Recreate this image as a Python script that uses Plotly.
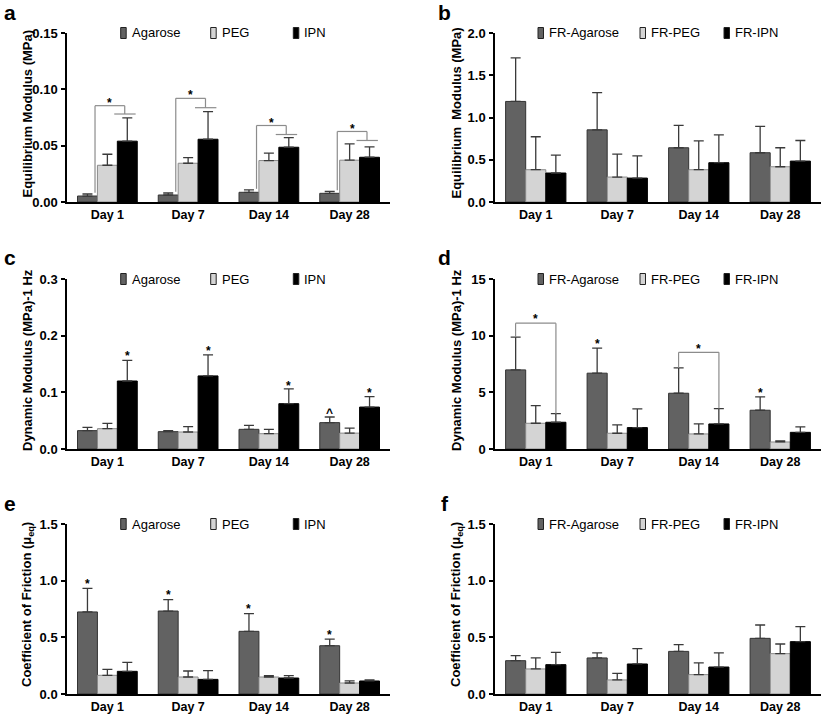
import plotly.graph_objects as go
from plotly.subplots import make_subplots

days = ["Day 1", "Day 7", "Day 14", "Day 28"]
day_pos = [0, 1, 2, 3]
names_plain = ["Agarose", "PEG", "IPN"]
names_fr = ["FR-Agarose", "FR-PEG", "FR-IPN"]

# a - equilibrium modulus, plain gels (MPa)
a_agarose = [0.0053, 0.0062, 0.0086, 0.0077]
a_agarose_err = [0.0018, 0.0018, 0.0021, 0.0018]
a_peg = [0.0326, 0.0344, 0.0368, 0.0371]
a_peg_err = [0.0098, 0.0050, 0.0065, 0.0145]
a_ipn = [0.0540, 0.0557, 0.0486, 0.0397]
a_ipn_err = [0.0207, 0.0246, 0.0086, 0.0092]

# b - equilibrium modulus, FR gels (MPa)
b_agarose = [1.19, 0.854, 0.642, 0.583]
b_agarose_err = [0.516, 0.441, 0.264, 0.311]
b_peg = [0.382, 0.295, 0.382, 0.417]
b_peg_err = [0.390, 0.272, 0.342, 0.225]
b_ipn = [0.343, 0.283, 0.465, 0.484]
b_ipn_err = [0.212, 0.264, 0.330, 0.244]

# c - dynamic modulus 1 Hz, plain gels
c_agarose = [0.0324, 0.0306, 0.0347, 0.0465]
c_agarose_err = [0.0058, 0.0018, 0.0071, 0.0100]
c_peg = [0.0359, 0.0300, 0.0270, 0.0280]
c_peg_err = [0.0094, 0.0094, 0.0077, 0.0090]
c_ipn = [0.120, 0.129, 0.080, 0.074]
c_ipn_err = [0.0365, 0.0370, 0.0260, 0.0184]

# d - dynamic modulus 1 Hz, FR gels
d_agarose = [6.98, 6.69, 4.92, 3.42]
d_agarose_err = [2.89, 2.21, 2.24, 1.18]
d_peg = [2.27, 1.39, 1.33, 0.62]
d_peg_err = [1.56, 0.73, 0.88, 0.09]
d_ipn = [2.36, 1.89, 2.21, 1.47]
d_ipn_err = [0.76, 1.65, 1.36, 0.48]

# e - coefficient of friction, plain gels
e_agarose = [0.724, 0.732, 0.553, 0.426]
e_agarose_err = [0.208, 0.100, 0.156, 0.059]
e_peg = [0.165, 0.150, 0.150, 0.097]
e_peg_err = [0.053, 0.053, 0.012, 0.018]
e_ipn = [0.200, 0.129, 0.141, 0.115]
e_ipn_err = [0.079, 0.077, 0.021, 0.009]

# f - coefficient of friction, FR gels
f_agarose = [0.294, 0.318, 0.376, 0.491]
f_agarose_err = [0.044, 0.044, 0.059, 0.118]
f_peg = [0.221, 0.124, 0.171, 0.356]
f_peg_err = [0.097, 0.058, 0.103, 0.085]
f_ipn = [0.259, 0.265, 0.238, 0.462]
f_ipn_err = [0.109, 0.135, 0.124, 0.132]

# significance markers
a_bracket_top = [0.0855, 0.0920, 0.0679, 0.0626]
a_bracket_drop = [0.0781, 0.0837, 0.0599, 0.0546]
a_star = [0.0905, 0.0972, 0.0732, 0.0676]
c_ipn_star = [0.169, 0.178, 0.116, 0.105]
c_caret = 0.069
d_bracket_days = [0, 2]
d_bracket_top = [11.1, 8.53]
d_bracket_star = [11.7, 9.09]
d_agarose_star_days = [1, 3]
d_agarose_star = [9.49, 5.2]
e_agarose_star = [0.994, 0.897, 0.774, 0.544]

W, H = 826, 717
FONT = "Liberation Sans, Arial, sans-serif"
colors = ["#626262", "#d4d4d4", "#000000"]
outline = ["#333333", "#8a8a8a", "#000000"]
err_color = "#3a3a3a"
bracket_color = "#8c8c8c"


def px(x):
    return x / W


def py(y):
    return 1 - y / H


panels = [
    dict(letter="a", means=[a_agarose, a_peg, a_ipn], errs=[a_agarose_err, a_peg_err, a_ipn_err],
         names=names_plain, ymax=0.15, dtick=0.05, fmt=".2f", title="Equilibrium Modulus (MPa)"),
    dict(letter="b", means=[b_agarose, b_peg, b_ipn], errs=[b_agarose_err, b_peg_err, b_ipn_err],
         names=names_fr, ymax=2.0, dtick=0.5, fmt=".1f", title="Equilibrium  Modulus (MPa)"),
    dict(letter="c", means=[c_agarose, c_peg, c_ipn], errs=[c_agarose_err, c_peg_err, c_ipn_err],
         names=names_plain, ymax=0.3, dtick=0.1, fmt=".1f", title="Dynamic Modulus (MPa)-1 Hz"),
    dict(letter="d", means=[d_agarose, d_peg, d_ipn], errs=[d_agarose_err, d_peg_err, d_ipn_err],
         names=names_fr, ymax=15, dtick=5, fmt="d", title="Dynamic Modulus (MPa)-1 Hz"),
    dict(letter="e", means=[e_agarose, e_peg, e_ipn], errs=[e_agarose_err, e_peg_err, e_ipn_err],
         names=names_plain, ymax=1.5, dtick=0.5, fmt=".1f", title="Coefficient of Friction (\u03bc<sub>eq</sub>)"),
    dict(letter="f", means=[f_agarose, f_peg, f_ipn], errs=[f_agarose_err, f_peg_err, f_ipn_err],
         names=names_fr, ymax=1.5, dtick=0.5, fmt=".1f", title="Coefficient of Friction (\u03bc<sub>eq</sub>)"),
]

# pixel boxes of each plotting area
col_x = [(67, 390), (495, 821)]
row_y = [(33, 202), (279, 449), (524, 694)]
legend_sym = {"plain": [53.7, 143.7, 226.3], "fr": [43, 145, 229]}

fig = make_subplots(rows=3, cols=2)
shapes = []
annotations = []

for i, p in enumerate(panels):
    row, col = i // 2, i % 2
    x0, x1 = col_x[col]
    ytop, ybot = row_y[row]

    for k in range(3):
        fig.add_trace(go.Bar(
            x=day_pos, y=p["means"][k], name=p["names"][k], showlegend=False,
            marker=dict(color=colors[k], line=dict(color=outline[k], width=1)),
            error_y=dict(type="data", symmetric=False, array=p["errs"][k], arrayminus=[0] * 4,
                         color=err_color, thickness=1.3, width=5),
        ), row=row + 1, col=col + 1)

    fig.update_xaxes(domain=[px(x0), px(x1)], range=[-0.5, 3.5], tickvals=day_pos, ticktext=days,
                     automargin=False,
                     showline=True, linecolor="black", linewidth=1.5, showgrid=False, zeroline=False,
                     ticks="", tickfont=dict(family=FONT, size=12.5, color="black", weight="bold"),
                     row=row + 1, col=col + 1)
    nt = int(round(p["ymax"] / p["dtick"]))
    tv = [p["dtick"] * j for j in range(nt + 1)]
    fig.update_yaxes(domain=[py(ybot), py(ytop)], range=[0, p["ymax"]], tickvals=tv,
                     automargin=False,
                     tickformat=p["fmt"], showline=True, linecolor="black", linewidth=1.5,
                     showgrid=False, zeroline=False, ticks="outside", ticklen=4, tickwidth=1.5,
                     tickcolor="black", ticklabelstandoff=1,
                     tickfont=dict(family=FONT, size=13, color="black", weight="bold"),
                     row=row + 1, col=col + 1)

    # axis title
    annotations.append(dict(text=p["title"], textangle=-90, xref="paper", yref="paper",
                            x=px(27 if col == 0 else 456), y=py((ytop + ybot) / 2 - 4),
                            showarrow=False, xanchor="center", yanchor="middle",
                            font=dict(family=FONT, size=13, color="black", weight="bold")))
    # panel letter
    annotations.append(dict(text=p["letter"], xref="paper", yref="paper",
                            x=px(10 if col == 0 else 445), y=py(ytop - 21),
                            showarrow=False, xanchor="center", yanchor="middle",
                            font=dict(family=FONT, size=21, color="black", weight="bold")))
    # legend drawn as swatches + labels
    syms = legend_sym["plain" if col == 0 else "fr"]
    for k in range(3):
        sx = x0 + syms[k]
        shapes.append(dict(type="rect", xref="paper", yref="paper",
                           x0=px(sx), x1=px(sx + 5.5), y0=py(ytop + 5.5), y1=py(ytop - 5.5),
                           fillcolor=colors[k], line=dict(color="#222222", width=1)))
        annotations.append(dict(text=p["names"][k], xref="paper", yref="paper",
                                x=px(sx + 9), y=py(ytop), showarrow=False,
                                xanchor="left", yanchor="middle",
                                font=dict(family=FONT, size=13, color="black")))


def star(xref, yref, x, y, txt="*"):
    annotations.append(dict(text=txt, xref=xref, yref=yref, x=x, y=y, showarrow=False,
                            xanchor="center", yanchor="middle", yshift=-3,
                            font=dict(family=FONT, size=12, color="black", weight="bold")))


def seg(xref, yref, xa, ya, xb, yb):
    shapes.append(dict(type="line", xref=xref, yref=yref, x0=xa, y0=ya, x1=xb, y1=yb,
                       line=dict(color=bracket_color, width=1.2)))


bw = 0.2475  # one bar width in category units (bargap 0.26)

# panel a brackets: agarose vs (PEG, IPN)
for d in day_pos:
    left, right = d - 0.153, d + 0.215
    base = a_agarose[d] + a_agarose_err[d] + 0.001
    seg("x", "y", left, base, left, a_bracket_top[d])
    seg("x", "y", left, a_bracket_top[d], right, a_bracket_top[d])
    seg("x", "y", right, a_bracket_top[d], right, a_bracket_drop[d])
    seg("x", "y", d + 0.085, a_bracket_drop[d], d + 0.35, a_bracket_drop[d])
    star("x", "y", d + 0.03, a_star[d])

# panel c stars
for d in day_pos:
    star("x3", "y3", d + bw, c_ipn_star[d])
star("x3", "y3", 3 - bw, c_caret, "^")

# panel d brackets and stars
for d, top, st in zip(d_bracket_days, d_bracket_top, d_bracket_star):
    left, right = d - bw, d + bw
    seg("x4", "y4", left, d_agarose[d] + d_agarose_err[d], left, top)
    seg("x4", "y4", left, top, right, top)
    seg("x4", "y4", right, top, right, d_ipn[d] + d_ipn_err[d])
    star("x4", "y4", d, st)
for d, st in zip(d_agarose_star_days, d_agarose_star):
    star("x4", "y4", d - bw, st)

# panel e stars
for d in day_pos:
    star("x5", "y5", d - bw, e_agarose_star[d])

fig.update_layout(
    width=W, height=H, margin=dict(l=0, r=0, t=0, b=0, autoexpand=False),
    barmode="group", bargap=0.26, bargroupgap=0,
    plot_bgcolor="white", paper_bgcolor="white",
    font=dict(family=FONT, color="black"),
    shapes=shapes, annotations=annotations, showlegend=False,
)

# page body has a default 8px margin; drop it so the figure fills the window
fig.write_html("out.html", config={"displayModeBar": False},
               post_script="document.body.style.margin='0';")
